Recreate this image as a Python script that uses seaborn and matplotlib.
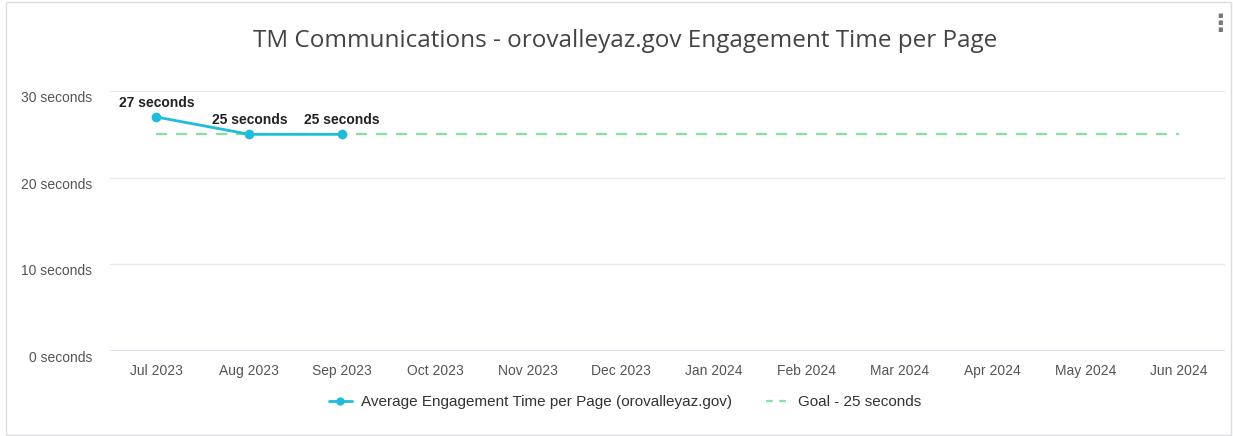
import numpy as np
import pandas as pd
import matplotlib
matplotlib.use("Agg")
import matplotlib.pyplot as plt
from matplotlib.lines import Line2D
from matplotlib.patches import Rectangle
import seaborn as sns

months = ["Jul 2023", "Aug 2023", "Sep 2023", "Oct 2023", "Nov 2023", "Dec 2023",
          "Jan 2024", "Feb 2024", "Mar 2024", "Apr 2024", "May 2024", "Jun 2024"]
avg_engagement = [27, 25, 25, np.nan, np.nan, np.nan, np.nan, np.nan, np.nan, np.nan, np.nan, np.nan]
goal = [25] * 12
y_ticks = [0, 10, 20, 30]
y_tick_labels = ["0 seconds", "10 seconds", "20 seconds", "30 seconds"]
series_label = "Average Engagement Time per Page (orovalleyaz.gov)"
goal_label = "Goal - 25 seconds"
title = "TM Communications - orovalleyaz.gov Engagement Time per Page"

line_color = "#1fbcdc"
goal_color = "#86e0a4"

sns.set_theme(style="white")
plt.rcParams["font.family"] = ["Liberation Sans", "DejaVu Sans"]

df = pd.DataFrame({"idx": np.arange(len(months)), "month": months,
                   "avg": avg_engagement, "goal": goal})

fig = plt.figure(figsize=(12.33, 4.36), dpi=100)
ax = fig.add_axes([110 / 1233, 1 - 351 / 436, 1115 / 1233, 260 / 436])

sns.lineplot(data=df, x="idx", y="goal", ax=ax, color=goal_color, linewidth=1.6,
             linestyle=(0, (5, 4)), zorder=2)
d = df.dropna()
sns.lineplot(data=d, x="idx", y="avg", ax=ax, color=line_color, linewidth=2,
             marker="o", markersize=7, markeredgewidth=0, zorder=3)

for xi, yi in zip(d["idx"], d["avg"]):
    ax.annotate(f"{int(yi)} seconds", (xi, yi), xytext=(0, 5), textcoords="offset points",
                ha="center", va="bottom", fontsize=10, fontweight="bold", color="#222222")

ax.set_xlim(-0.5, len(months) - 0.5)
ax.set_ylim(0, 30)
ax.set_xticks(df["idx"])
ax.set_xticklabels(months, fontsize=10, color="#555555")
ax.set_yticks(y_ticks)
ax.set_yticklabels(y_tick_labels, fontsize=10, color="#555555")
ax.tick_params(axis="x", length=0, pad=9)
ax.tick_params(axis="y", length=0, pad=13)
for lab in ax.get_yticklabels():
    lab.set_verticalalignment("top")
ax.set_xlabel("")
ax.set_ylabel("")
ax.grid(axis="y", color="#e6e9f0", linewidth=1)
ax.grid(axis="x", visible=False)
for s in ax.spines.values():
    s.set_visible(False)
ax.axhline(0, color="#d5dceb", linewidth=1.2, zorder=1)

fig.text(625 / 1233, 1 - 41 / 436, title, ha="center", va="center", fontsize=17.5,
         color="#444444", family=["Open Sans", "DejaVu Sans"])
fig.text(1220 / 1233, 1 - 24 / 436, "\u22ee", ha="center", va="center", fontsize=17,
         color="#777777", family="DejaVu Sans", fontweight="bold")

handles = [Line2D([0], [0], color=line_color, lw=2, marker="o", markersize=6, markeredgewidth=0),
           Line2D([0], [0], color=goal_color, lw=1.6, linestyle=(0, (3, 3)))]
fig.legend(handles, [series_label, goal_label], loc="center", ncol=2,
           bbox_to_anchor=(625 / 1233, 1 - 402 / 436), frameon=False, fontsize=11,
           handlelength=1.5, handletextpad=0.6, columnspacing=2.2, labelcolor="#333333")

fig.patches.append(Rectangle((6 / 1233, 1 / 436), 1225 / 1233, 433 / 436,
                             transform=fig.transFigure, fill=False,
                             edgecolor="#dcdde3", linewidth=1))

fig.savefig("out.png", dpi=100)
